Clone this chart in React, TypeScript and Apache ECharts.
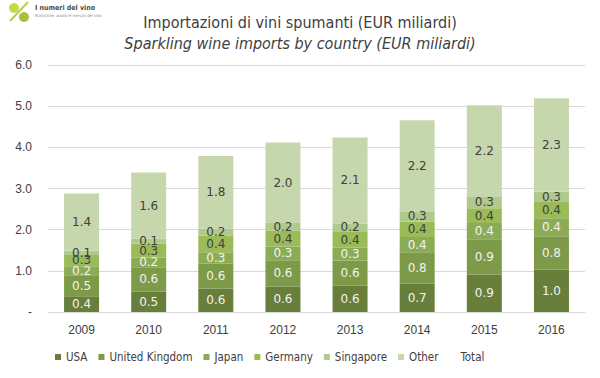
import React, { useEffect, useRef } from "react";
import * as echarts from "echarts";

const categories = ["2009", "2010", "2011", "2012", "2013", "2014", "2015", "2016"];
const usa = [0.38, 0.5, 0.57, 0.62, 0.64, 0.69, 0.91, 1.03];
const uk = [0.51, 0.59, 0.61, 0.64, 0.61, 0.76, 0.86, 0.81];
const japan = [0.22, 0.23, 0.27, 0.33, 0.31, 0.37, 0.39, 0.44];
const germany = [0.29, 0.34, 0.41, 0.39, 0.4, 0.37, 0.36, 0.39];
const singapore = [0.09, 0.12, 0.17, 0.18, 0.19, 0.26, 0.29, 0.26];
const other = [1.39, 1.61, 1.76, 1.96, 2.09, 2.21, 2.21, 2.26];
const yTicks = [0, 1, 2, 3, 4, 5, 6];

const seriesDefs = [
  { name: "USA", data: usa, color: "#687f3b", label: "#f2f2f2" },
  { name: "United Kingdom", data: uk, color: "#7d9a48", label: "#f2f2f2" },
  { name: "Japan", data: japan, color: "#8cab55", label: "#f2f2f2" },
  { name: "Germany", data: germany, color: "#9bbb59", label: "#404040" },
  { name: "Singapore", data: singapore, color: "#b0c98c", label: "#404040" },
  { name: "Other", data: other, color: "#c6d7ae", label: "#404040" },
];

const totals = categories.map((_, i) =>
  seriesDefs.reduce((s, d) => s + d.data[i], 0)
);

const narrow = "'DejaVu Sans Condensed', 'Liberation Sans', sans-serif";

export default function App() {
  const ref = useRef<HTMLDivElement>(null);
  useEffect(() => {
    if (!ref.current) return;
    const chart = echarts.init(ref.current, undefined, { renderer: "svg" });
    const axisFont = "Liberation Sans";
    const option: any = {
      animation: false,
      backgroundColor: "#ffffff",
      title: [
        {
          text: "Importazioni di vini spumanti (EUR miliardi)",
          left: "center",
          top: 9,
          textStyle: {
            fontFamily: narrow,
            fontSize: 16,
            fontWeight: "normal",
            color: "#404040",
          },
        },
        {
          text: "Sparkling wine imports by country (EUR miliardi)",
          left: "center",
          top: 30,
          textStyle: {
            fontFamily: narrow,
            fontSize: 16,
            fontStyle: "italic",
            fontWeight: "normal",
            color: "#404040",
          },
        },
      ],
      graphic: [
        { type: "circle", shape: { cx: 14, cy: 8, r: 5 }, style: { fill: "#c8d94a" } },
        { type: "circle", shape: { cx: 24, cy: 17, r: 5 }, style: { fill: "#a6c13c" } },
        {
          type: "line",
          shape: { x1: 28, y1: 2, x2: 10, y2: 21 },
          style: { stroke: "#b8cc50", lineWidth: 2 },
        },
        {
          type: "text",
          x: 35,
          y: 4,
          style: {
            text: "I numeri del vino",
            fontFamily: narrow,
            fontSize: 7,
            fontWeight: "bold",
            fill: "#4a4a4a",
          },
        },
        {
          type: "text",
          x: 35,
          y: 13,
          style: {
            text: "Statistiche, analisi e mercati del vino",
            fontFamily: narrow,
            fontSize: 4,
            fill: "#888888",
          },
        },
      ],
      grid: { left: 48, right: 15, top: 65, bottom: 66 },
      legend: {
        bottom: 10,
        left: 50,
        itemWidth: 6,
        itemHeight: 6,
        itemGap: 11,
        icon: "rect",
        textStyle: { fontFamily: narrow, fontSize: 11.5, color: "#404040" },
        data: [
          ...seriesDefs.map((d) => d.name),
          { name: "Total", itemStyle: { opacity: 0 } },
        ],
      },
      xAxis: {
        type: "category",
        data: categories,
        axisLine: { lineStyle: { color: "#d9d9d9" } },
        axisTick: { show: false },
        axisLabel: { fontFamily: axisFont, fontSize: 12, color: "#404040", margin: 12 },
      },
      yAxis: {
        type: "value",
        min: yTicks[0],
        max: yTicks[yTicks.length - 1],
        interval: 1,
        axisLine: { show: false },
        axisTick: { show: false },
        splitLine: { lineStyle: { color: "#d9d9d9" } },
        axisLabel: {
          fontFamily: axisFont,
          fontSize: 12,
          color: "#404040",
          margin: 16,
          formatter: (v: number) => (v === 0 ? "-" : v.toFixed(1)),
        },
      },
      series: [
        ...seriesDefs.map((d) => ({
          name: d.name,
          type: "bar",
          stack: "total",
          barWidth: 35,
          data: d.data,
          itemStyle: { color: d.color },
          label: {
            show: true,
            position: "inside",
            fontFamily: "DejaVu Sans",
            fontSize: 12,
            color: d.label,
            formatter: (p: any) => Number(p.value).toFixed(1),
          },
        })),
        {
          name: "Total",
          type: "line",
          data: totals,
          symbol: "circle",
          symbolSize: 1,
          itemStyle: { color: "#ffffff", opacity: 0 },
          lineStyle: { opacity: 0 },
          label: {
            show: true,
            position: "top",
            distance: 10,
            fontFamily: "DejaVu Sans",
            fontSize: 12,
            color: "#404040",
            formatter: (p: any) => Number(p.value).toFixed(1),
          },
        },
      ],
    };
    chart.setOption(option);
    return () => chart.dispose();
  }, []);
  return <div ref={ref} style={{ width: 600, height: 378, position: "fixed", left: 0, top: 0 }} />;
}
